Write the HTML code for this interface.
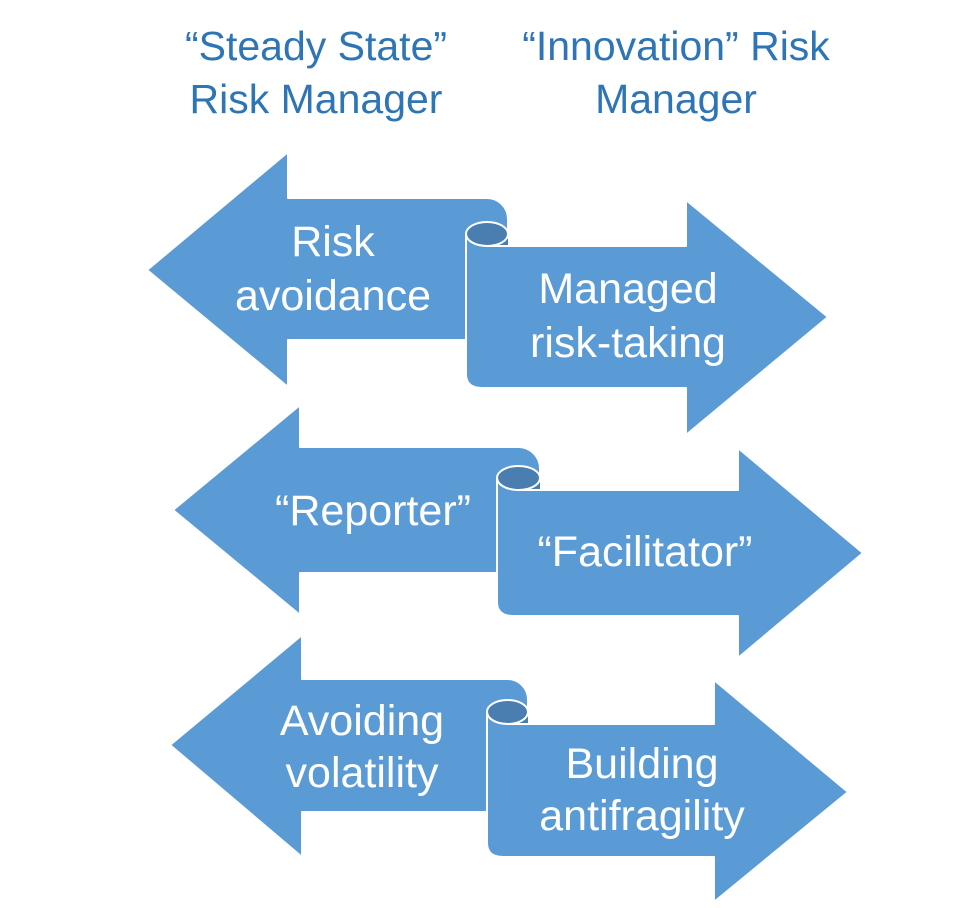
<!DOCTYPE html>
<html><head><meta charset="utf-8"><style>
html,body{margin:0;padding:0;background:#fff;}
svg{display:block;}
text{font-family:"Liberation Sans",sans-serif;}
</style></head><body>
<svg id="s" width="976" height="908" viewBox="0 0 976 908" xmlns="http://www.w3.org/2000/svg">
<g font-size="41" fill="#2e75b6" text-anchor="middle">
<text x="316" y="60">“Steady State”</text>
<text x="316" y="113">Risk Manager</text>
<text x="676" y="60">“Innovation” Risk</text>
<text x="676" y="113">Manager</text>
</g>
<g id="arrows"></g>
<g font-size="43" fill="#fff" text-anchor="middle">
<text x="333" y="256">Risk</text>
<text x="333" y="310">avoidance</text>
<text x="628" y="303">Managed</text>
<text x="628" y="357">risk-taking</text>
<text x="373" y="525">“Reporter”</text>
<text x="645" y="566">“Facilitator”</text>
<text x="362" y="735">Avoiding</text>
<text x="362" y="787">volatility</text>
<text x="642" y="778">Building</text>
<text x="642" y="830">antifragility</text>
</g>
</svg>
<script>
var A=[
[147,270,288,152,387,198,340,466,508,246,388,686,200,435,828,317],
[173,510,300,405,615,447,573,497,540,490,616,738,448,658,863,553],
[170,745,302,635,857,679,812,487,528,724,857,714,680,902,848,792]];
var h='';
A.forEach(function(a){
var lt=a[0],ly=a[1],hx=a[2],ht=a[3],hb=a[4],st=a[5],sb=a[6],c1=a[7],c2=a[8],rst=a[9],rsb=a[10],rhx=a[11],rht=a[12],rhb=a[13],rt=a[14],rty=a[15];
var rx=(c2-c1)/2,ry=12,cx=c1+rx,c=rst-ry;
var L='M'+lt+','+ly+' L'+hx+','+ht+' L'+hx+','+st+' L'+(c2-rx)+','+st+' A'+rx+','+rx+' 0 0 1 '+c2+','+(st+rx)+' L'+c2+','+rst+' L'+c1+','+rst+' L'+c1+','+sb+' L'+hx+','+sb+' L'+hx+','+hb+' Z';
h+='<path d="'+L+'" fill="#5b9bd5" stroke="#fff" stroke-width="2" stroke-linejoin="round"/>';
h+='<path d="M'+cx+','+c+' L'+c2+','+c+' L'+c2+','+rst+' L'+cx+','+rst+' Z" fill="#4a7db0"/>';
h+='<ellipse cx="'+cx+'" cy="'+c+'" rx="'+rx+'" ry="'+ry+'" fill="#4a7db0" stroke="#fff" stroke-width="2"/>';
var R='M'+c1+','+c+' L'+c1+','+(rsb-14)+' Q'+c1+','+rsb+' '+(c1+16)+','+rsb+' L'+rhx+','+rsb+' L'+rhx+','+rhb+' L'+rt+','+rty+' L'+rhx+','+rht+' L'+rhx+','+rst+' L'+cx+','+rst+' A'+rx+','+ry+' 0 0 1 '+c1+','+c+' Z';
h+='<path d="'+R+'" fill="#5b9bd5" stroke="#fff" stroke-width="2" stroke-linejoin="round"/>';
});
document.getElementById('arrows').innerHTML=h;
</script>
</body></html>
